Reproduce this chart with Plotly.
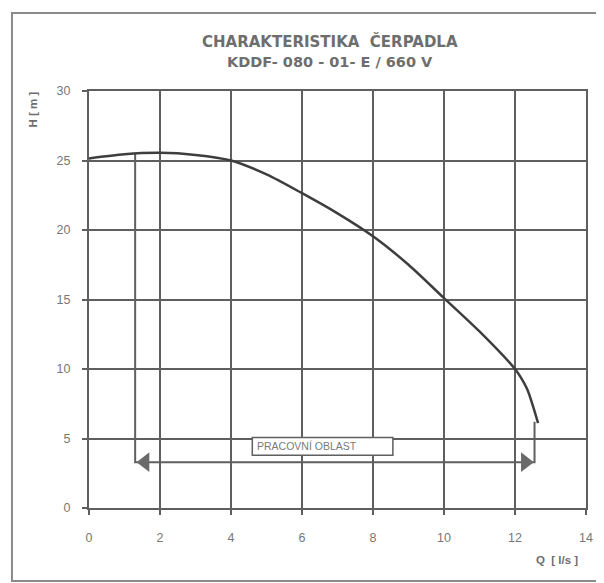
import plotly.graph_objects as go

# ---- data ----
q_values = [0, 1, 2, 3, 4, 5, 6, 7, 8, 9, 10, 11, 12, 12.15, 12.35, 12.65]
h_values = [25.15, 25.45, 25.55, 25.4, 25.0, 24.0, 22.65, 21.2, 19.55, 17.5, 15.1, 12.7, 10.0, 9.45, 8.5, 6.1]

x_ticks = [0, 2, 4, 6, 8, 10, 12, 14]
y_ticks = [0, 5, 10, 15, 20, 25, 30]

range_start = 1.3      # Q where working range begins
range_end = 12.55      # Q where working range ends
range_level = 3.3      # H level of the bracket line
range_top_left = 25.5  # H where left bracket meets curve
range_top_right = 6.2  # H where right bracket meets curve
range_label = "PRACOVNÍ OBLAST"
label_box = [4.6, 8.56, 3.8, 5.07]  # x0, x1, y0, y1

title_1 = "CHARAKTERISTIKA  ČERPADLA"
title_2 = "KDDF- 080 - 01- E / 660 V"
x_title = "Q  [ l/s ]"
y_title = "H [ m ]"

GRID = "#5f5f5f"
CURVE = "#3e3e3e"
TEXT = "#6e6e6e"
FONT = "Liberation Sans, Arial, sans-serif"
TFONT = "DejaVu Sans, sans-serif"

fig = go.Figure()

# working range bracket
fig.add_trace(go.Scatter(
    x=[range_start, range_start, range_end, range_end],
    y=[range_top_left, range_level, range_level, range_top_right],
    mode="lines", line=dict(color=GRID, width=2), hoverinfo="skip", showlegend=False))
fig.add_trace(go.Scatter(
    x=[range_start + 0.28, range_end - 0.26], y=[range_level, range_level],
    mode="markers",
    marker=dict(symbol=["triangle-left", "triangle-right"], size=17, color="#6a6a6a",
                line=dict(width=0)),
    hoverinfo="skip", showlegend=False))

# pump curve
fig.add_trace(go.Scatter(
    x=q_values, y=h_values, mode="lines",
    line=dict(color=CURVE, width=2.5, shape="spline", smoothing=0.8),
    showlegend=False))

fig.add_shape(type="rect", xref="x", yref="y",
              x0=label_box[0], x1=label_box[1], y0=label_box[2], y1=label_box[3],
              fillcolor="white", line=dict(color=GRID, width=1.5), layer="above")
fig.add_annotation(x=label_box[0] + 0.08, y=(label_box[2] + label_box[3]) / 2,
                   xref="x", yref="y", text=range_label, showarrow=False,
                   xanchor="left", yanchor="middle",
                   font=dict(family=FONT, size=10.5, color="#7a7a7a"))

# outer frame of the sheet
fig.add_shape(type="rect", xref="paper", yref="paper",
              x0=-0.155, x1=1.034, y0=-0.175, y1=1.187,
              line=dict(color="#8a8a8a", width=2), layer="above")

# titles
fig.add_annotation(x=0.485, y=1.118, xref="paper", yref="paper",
                   xanchor="center", yanchor="middle",
                   text="<b>" + title_1 + "</b>", showarrow=False,
                   font=dict(family=TFONT, size=15, color=TEXT))
fig.add_annotation(x=0.485, y=1.070, xref="paper", yref="paper",
                   xanchor="center", yanchor="middle",
                   text="<b>" + title_2 + "</b>", showarrow=False,
                   font=dict(family=TFONT, size=14.5, color=TEXT))
fig.add_annotation(x=-0.113, y=0.955, xref="paper", yref="paper",
                   xanchor="center", yanchor="middle",
                   text="<b>" + y_title + "</b>", showarrow=False, textangle=-90,
                   font=dict(family=FONT, size=11.5, color=TEXT))
fig.add_annotation(x=0.942, y=-0.125, xref="paper", yref="paper",
                   xanchor="center", yanchor="middle",
                   text="<b>" + x_title + "</b>", showarrow=False,
                   font=dict(family=FONT, size=11.5, color=TEXT))

axis_common = dict(showgrid=True, gridcolor=GRID, gridwidth=2,
                   showline=True, linecolor=GRID, linewidth=2, mirror=True,
                   ticks="outside", ticklen=5, tickcolor=GRID, tickwidth=2,
                   zeroline=False, tickfont=dict(family=FONT, size=12.5, color="#777777"))

fig.update_xaxes(range=[0, 14], tickvals=x_ticks, ticklabelstandoff=12, **axis_common)
fig.update_yaxes(range=[0, 30], tickvals=y_ticks, ticklabelstandoff=9, **axis_common)

fig.update_layout(
    width=596, height=575,
    margin=dict(l=81, r=18, t=83, b=75),
    paper_bgcolor="white", plot_bgcolor="white",
    showlegend=False,
)

fig.write_html("out.html")
